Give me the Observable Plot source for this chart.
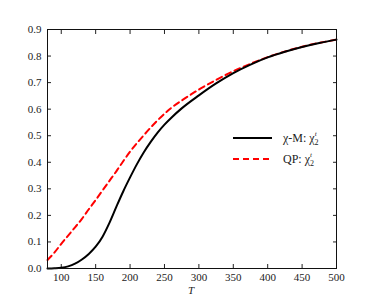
<!DOCTYPE html>
<html><head><meta charset="utf-8">
<script src="https://cdn.jsdelivr.net/npm/d3@7"></script>
<script src="https://cdn.jsdelivr.net/npm/@observablehq/plot@0.6"></script>
<style>
html,body{margin:0;padding:0;background:#fff;}
#chart{width:374px;height:299px;}
</style></head>
<body><div id="chart"></div>
<script>
const seriesNames = ["χ-M", "QP"];
const tM = [80,90,100,110,120,130,140,150,160,170,180,190,200,210,220,230,240,250,260,275,300,325,350,375,400,425,450,475,500];
const vM = [0.0,0.001,0.003,0.008,0.018,0.034,0.055,0.082,0.12,0.172,0.232,0.29,0.343,0.393,0.438,0.477,0.512,0.542,0.568,0.603,0.652,0.697,0.736,0.768,0.795,0.816,0.834,0.849,0.862];
const tQ = [80,90,100,110,120,130,140,150,160,170,180,190,200,220,240,260,283,300,325,350,375,400,450,500];
const vQ = [0.032,0.06,0.093,0.124,0.155,0.187,0.223,0.258,0.294,0.33,0.366,0.404,0.44,0.502,0.558,0.605,0.646,0.674,0.71,0.743,0.771,0.796,0.835,0.862];
const xTicks = [100,150,200,250,300,350,400,450,500];
const yTicks = [0,0.1,0.2,0.3,0.4,0.5,0.6,0.7,0.8,0.9];

const dataM = tM.map((t,i)=>({T:t, v:vM[i]}));
const dataQ = tQ.map((t,i)=>({T:t, v:vQ[i]}));
const font = "'Liberation Serif', 'DejaVu Serif', serif";

const plot = Plot.plot({
  width: 374, height: 299,
  marginLeft: 47, marginRight: 38, marginTop: 29, marginBottom: 31,
  style: {fontFamily: font, fontSize: "11px", color: "#222", background: "#fff"},
  x: {domain: [80, 500]},
  y: {domain: [0, 0.9]},
  marks: [
    Plot.axisX({anchor: "bottom", ticks: xTicks, tickSize: -4, tickPadding: 9, label: null, tickFormat: d3.format("d")}),
    Plot.axisX({anchor: "top", ticks: xTicks, tickSize: -4, tickFormat: () => "", label: null}),
    Plot.axisY({anchor: "left", ticks: yTicks, tickSize: -4, tickPadding: 10, label: null, tickFormat: d3.format(".1f")}),
    Plot.axisY({anchor: "right", ticks: yTicks, tickSize: -4, tickFormat: () => "", label: null}),
    Plot.line(dataQ, {x: "T", y: "v", stroke: "red", strokeWidth: 2, strokeDasharray: "6,4", curve: "monotone-x"}),
    Plot.line(dataM, {x: "T", y: "v", stroke: "black", strokeWidth: 2, curve: "monotone-x"}),
    Plot.frame({stroke: "#111", strokeWidth: 1})
  ]
});
document.getElementById("chart").appendChild(plot);

const svg = d3.select(plot);
// x label
svg.append("text").attr("x", 191).attr("y", 294).attr("text-anchor","middle")
  .attr("font-style","italic").attr("font-size", 11).attr("font-family", font).text("T");
// legend
const leg = [{name: seriesNames[0], color: "black", dash: null, y: 138},
             {name: seriesNames[1], color: "red", dash: "6,4", y: 159}];
leg.forEach(d => {
  svg.append("line").attr("x1", 233).attr("x2", 272).attr("y1", d.y).attr("y2", d.y)
    .attr("stroke", d.color).attr("stroke-width", 2).attr("stroke-dasharray", d.dash);
  const t = svg.append("text").attr("x", 283).attr("y", d.y + 4).attr("text-anchor", "start")
    .attr("font-size", 12).attr("font-family", font).attr("fill","#222");
  t.append("tspan").text(d.name + ": χ");
  t.append("tspan").attr("font-size", 7).attr("font-style","italic").attr("dy", -6).text("t");
  t.append("tspan").attr("font-size", 8).attr("dx", -2).attr("dy", 9).text("2");
});
</script>
</body></html>
